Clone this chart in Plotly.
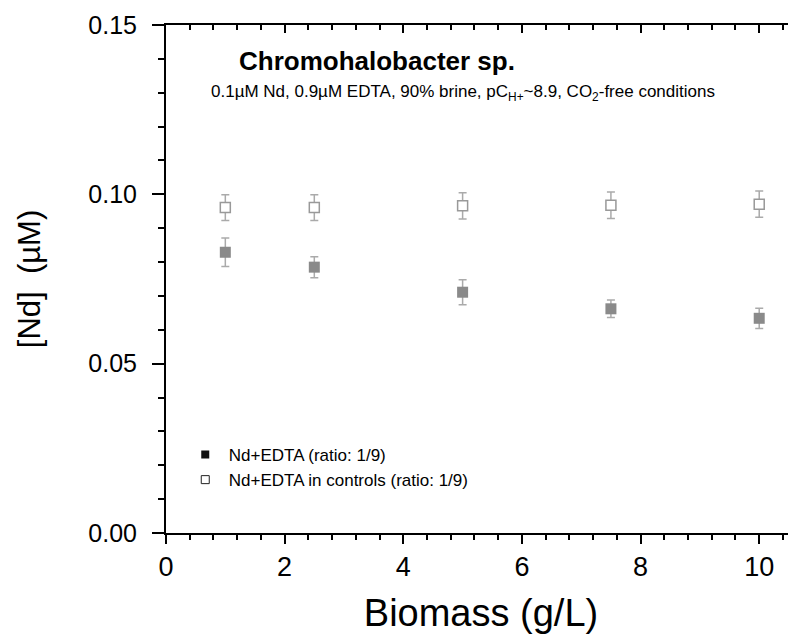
import plotly.graph_objects as go

# ---- data ----
biomass = [1.0, 2.5, 5.0, 7.5, 10.0]
nd_edta = [0.0829, 0.0785, 0.0711, 0.0662, 0.0634]
nd_edta_err = [0.0042, 0.0031, 0.0037, 0.0026, 0.0030]
nd_ctrl = [0.0961, 0.0961, 0.0966, 0.0968, 0.0971]
nd_ctrl_err = [0.0038, 0.0038, 0.0039, 0.0039, 0.0039]

legend_names = ["Nd+EDTA (ratio: 1/9)", "Nd+EDTA in controls (ratio: 1/9)"]
title_text = "<b>Chromohalobacter sp.</b>"
subtitle_text = ("0.1µM Nd, 0.9µM EDTA, 90% brine, pC<sub>H+</sub>~8.9, "
                 "CO<sub>2</sub>-free conditions")
x_title = "Biomass (g/L)"
y_title = "[Nd]\u00a0\u00a0(µM)"

FONT = "Arial, Liberation Sans, Helvetica, sans-serif"

fig = go.Figure()

# data traces
fig.add_trace(go.Scatter(
    x=biomass, y=nd_ctrl, mode="markers", showlegend=False,
    error_y=dict(type="data", array=nd_ctrl_err, color="#aaaaaa",
                 thickness=1.5, width=4),
    marker=dict(symbol="square", size=10, color="white",
                line=dict(color="#999999", width=1.5)),
))
fig.add_trace(go.Scatter(
    x=biomass, y=nd_edta, mode="markers", showlegend=False,
    error_y=dict(type="data", array=nd_edta_err, color="#aaaaaa",
                 thickness=1.5, width=4),
    marker=dict(symbol="square", size=11, color="#8a8a8a",
                line=dict(color="#8a8a8a", width=0)),
))

# legend entries
fig.add_trace(go.Scatter(
    x=[None], y=[None], mode="markers", name=legend_names[0],
    marker=dict(symbol="square", size=8, color="#111111"),
))
fig.add_trace(go.Scatter(
    x=[None], y=[None], mode="markers", name=legend_names[1],
    marker=dict(symbol="square", size=8, color="white",
                line=dict(color="#222222", width=1)),
))

# empty trace to carry the mirrored top/right axes
fig.add_trace(go.Scatter(x=[None], y=[None], xaxis="x2", yaxis="y2",
                         showlegend=False, hoverinfo="skip"))

XR = [0, 10.62]
YR = [0, 0.15]

axis_common = dict(showgrid=False, zeroline=False, showline=True,
                   linecolor="black", linewidth=2, tickcolor="black",
                   tickwidth=2, automargin=False)

fig.update_layout(
    width=788, height=626,
    margin=dict(l=158, r=0, t=17, b=101),
    paper_bgcolor="white", plot_bgcolor="white",
    font=dict(family=FONT, color="black"),
    xaxis=dict(range=XR, tick0=0, dtick=2, ticks="outside", ticklen=9,
               minor=dict(dtick=0.4, ticks="outside", ticklen=5,
                          tickwidth=1.5, tickcolor="black"),
               tickfont=dict(size=27), ticklabelstandoff=0,
               title=dict(text=x_title, font=dict(size=38), standoff=30),
               **axis_common),
    yaxis=dict(range=YR, tick0=0, dtick=0.05, tickformat=".2f",
               ticks="outside", ticklen=12,
               minor=dict(dtick=0.01, ticks="outside", ticklen=6,
                          tickwidth=1.5, tickcolor="black"),
               tickfont=dict(size=25), ticklabelstandoff=10,
               title=dict(text=y_title, font=dict(size=31), standoff=38),
               **axis_common),
    xaxis2=dict(range=XR, overlaying="x", side="top", anchor="y2",
                tick0=0, dtick=2, ticks="inside", ticklen=8,
                minor=dict(dtick=0.4, ticks="inside", ticklen=5,
                           tickwidth=1.5, tickcolor="black"),
                showticklabels=False, **axis_common),
    yaxis2=dict(range=YR, overlaying="y", side="right", anchor="x2",
                tick0=0, dtick=0.05, ticks="inside", ticklen=8,
                minor=dict(dtick=0.01, ticks="inside", ticklen=5,
                           tickwidth=1.5, tickcolor="black"),
                showticklabels=False, **axis_common),
    legend=dict(x=0.025, y=0.189, xanchor="left", yanchor="top",
                bgcolor="rgba(0,0,0,0)", font=dict(size=17),
                tracegroupgap=0, itemsizing="trace", itemwidth=37),
    annotations=[
        dict(text=title_text, x=0.3357, y=0.929, xref="paper", yref="paper",
             xanchor="center", yanchor="middle", showarrow=False,
             font=dict(size=26, family=FONT)),
        dict(text=subtitle_text, x=0.472, y=0.866, xref="paper",
             yref="paper", xanchor="center", yanchor="middle",
             showarrow=False, font=dict(size=17, family=FONT)),
    ],
)

fig.write_html("out.html", config={"displayModeBar": False})
